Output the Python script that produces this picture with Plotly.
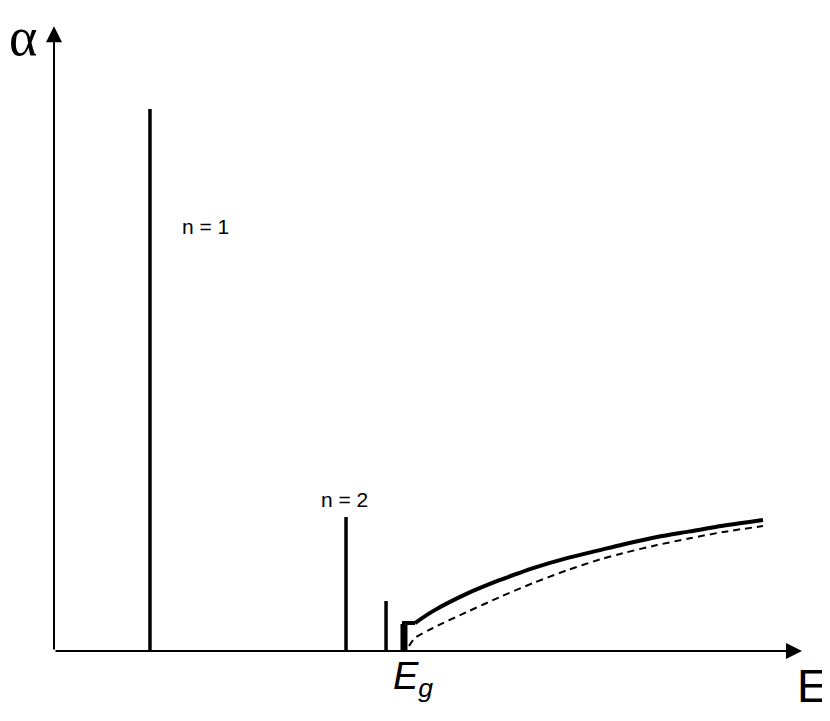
import plotly.graph_objects as go

# Exciton absorption lines (energy position, peak height) in arbitrary units
line_E = [12.83, 39.04, 44.39]
line_alpha = [87.0, 21.5, 8.03]
edge_E = 46.79
edge_alpha = 4.33

# Flat top of the band-edge step
step_E = [46.52, 48.26]
step_alpha = [4.49, 4.49]

# Continuum absorption with excitonic enhancement (solid)
cont_E = [48.26, 50.67, 55.21, 59.63, 61.90, 64.04, 68.58, 72.99, 76.07, 80.61, 85.03, 89.44, 94.79]
cont_alpha = [4.49, 6.40, 9.20, 11.40, 12.40, 13.30, 14.90, 16.20, 17.10, 18.30, 19.20, 20.10, 21.03]

# Free-particle absorption without Coulomb interaction (dashed)
free_E = [47.46, 48.26, 50.67, 55.21, 59.63, 64.04, 68.58, 72.99, 76.07, 80.61, 85.03, 89.44, 94.79]
free_alpha = [0.80, 2.09, 3.69, 6.26, 8.67, 10.90, 12.95, 14.70, 15.70, 17.00, 18.10, 19.10, 20.06]

fig = go.Figure()

for e, a in zip(line_E, line_alpha):
    fig.add_trace(go.Scatter(x=[e, e], y=[0, a], mode="lines",
                             line=dict(color="black", width=3.5), showlegend=False))

fig.add_trace(go.Scatter(x=[edge_E, edge_E], y=[0, edge_alpha], mode="lines",
                         line=dict(color="black", width=7), showlegend=False))
fig.add_trace(go.Scatter(x=step_E, y=step_alpha, mode="lines",
                         line=dict(color="black", width=4), showlegend=False))

fig.add_trace(go.Scatter(x=cont_E, y=cont_alpha, mode="lines",
                         line=dict(color="black", width=4, shape="spline", smoothing=0.8),
                         showlegend=False))
fig.add_trace(go.Scatter(x=free_E, y=free_alpha, mode="lines",
                         line=dict(color="black", width=2, dash="7px,5px", shape="spline", smoothing=0.8),
                         showlegend=False))

sans = "Liberation Sans"
serif = "Liberation Serif"

annotations = [
    # x axis arrow
    dict(x=100, y=0, ax=0, ay=0, xref="x", yref="y", axref="x", ayref="y",
         showarrow=True, arrowhead=2, arrowsize=1.6, arrowwidth=2, arrowcolor="black", text=""),
    # y axis arrow
    dict(x=0, y=100.3, ax=0, ay=0, xref="x", yref="y", axref="x", ayref="y",
         showarrow=True, arrowhead=2, arrowsize=1.6, arrowwidth=2, arrowcolor="black", text=""),
    dict(x=-0.0635, y=0.985, xref="paper", yref="paper", text="α", showarrow=False,
         font=dict(family=serif, size=54, color="black"),
         xanchor="left", yanchor="middle"),
    dict(x=0.990, y=-0.056, xref="paper", yref="paper", text="E", showarrow=False,
         font=dict(family=sans, size=46, color="black"),
         xanchor="left", yanchor="middle"),
    dict(x=0.48, y=-0.045, xref="paper", yref="paper", text="<i>E</i><sub><i>g</i></sub>", showarrow=False,
         font=dict(family=sans, size=38, color="black"),
         xanchor="center", yanchor="middle"),
    dict(x=0.2019, y=0.6806, xref="paper", yref="paper", text="n = 1", showarrow=False,
         font=dict(family=sans, size=21, color="black"),
         xanchor="center", yanchor="middle"),
    dict(x=0.389, y=0.2424, xref="paper", yref="paper", text="n = 2", showarrow=False,
         font=dict(family=sans, size=21, color="black"),
         xanchor="center", yanchor="middle"),
]

fig.update_layout(
    width=822, height=705,
    margin=dict(l=46, r=28, t=20, b=62),
    paper_bgcolor="white", plot_bgcolor="white",
    xaxis=dict(range=[0, 100], visible=False, fixedrange=True),
    yaxis=dict(range=[0, 100], visible=False, fixedrange=True),
    annotations=annotations,
    showlegend=False,
)

fig.write_html("out.html")
